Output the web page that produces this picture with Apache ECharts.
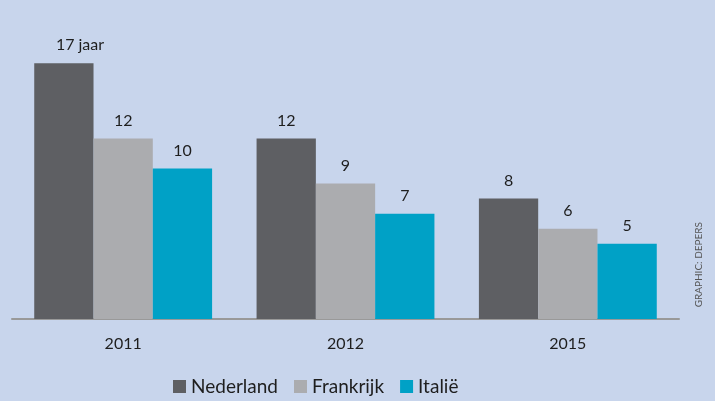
<!DOCTYPE html>
<html>
<head>
<meta charset="utf-8">
<script src="https://cdn.jsdelivr.net/npm/echarts@6/dist/echarts.min.js"></script>
<style>
html, body { margin: 0; padding: 0; background: #c8d5ec; }
#chart { width: 715px; height: 401px; }
</style>
</head>
<body>
<div id="chart"></div>
<script>
var years = ['2011', '2012', '2015'];
var nederland = [17, 12, 8];
var frankrijk = [12, 9, 6];
var italie = [10, 7, 5];

var chart = echarts.init(document.getElementById('chart'));
var font = 'Lato, "Open Sans", sans-serif';

function bar(name, data, color, first) {
    return {
        name: name,
        type: 'bar',
        data: data.map(function (v, i) {
            // first label carries the unit, number stays centred over the bar
            if (first && i === 0) {
                return { value: v, label: { align: 'left', offset: [-8, 0] } };
            }
            return v;
        }),
        barGap: 0,
        barCategoryGap: '20%',
        itemStyle: { color: color },
        label: {
            show: true,
            position: 'top',
            distance: 10,
            fontFamily: font,
            fontSize: 16,
            color: '#1e1e1e',
            formatter: function (p) {
                return (first && p.dataIndex === 0) ? p.value + ' jaar' : p.value;
            }
        }
    };
}

var option = {
    backgroundColor: '#c8d5ec',
    animation: false,
    textStyle: { fontFamily: font },
    grid: { left: 12, right: 36, top: 18, bottom: 82 },
    legend: {
        bottom: 0,
        left: 168,
        itemWidth: 13,
        itemHeight: 13,
        itemGap: 16,
        icon: 'rect',
        textStyle: { fontFamily: font, fontSize: 19, color: '#1e1e1e' },
        data: ['Nederland', 'Frankrijk', 'Italië']
    },
    xAxis: {
        type: 'category',
        data: years,
        axisLine: { lineStyle: { color: '#999', width: 2 } },
        axisTick: { show: false },
        axisLabel: { fontFamily: font, fontSize: 16, color: '#1e1e1e', margin: 17 }
    },
    yAxis: {
        type: 'value',
        min: 0,
        max: 20,
        show: false,
        splitLine: { show: false }
    },
    graphic: [{
        type: 'text',
        left: 694,
        top: 222,
        rotation: Math.PI / 2,
        style: { text: 'GRAPHIC: DEPERS', fontFamily: font, fontSize: 10, fill: '#555' }
    }],
    series: [
        bar('Nederland', nederland, '#5e5f63', true),
        bar('Frankrijk', frankrijk, '#abacaf', false),
        bar('Italië', italie, '#00a1c6', false)
    ]
};
chart.setOption(option);
</script>
</body>
</html>
